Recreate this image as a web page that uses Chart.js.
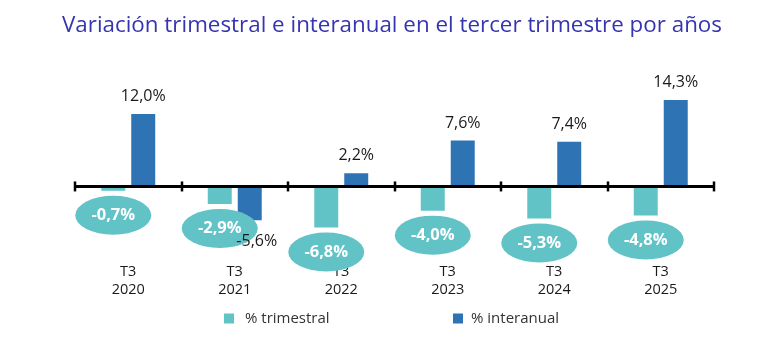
<!DOCTYPE html>
<html><head><meta charset="utf-8">
<script src="https://cdn.jsdelivr.net/npm/chart.js@4/dist/chart.umd.min.js"></script>
<style>html,body{margin:0;padding:0;background:#fff}#wrap{width:771px;height:357px}</style>
</head><body><div id="wrap"><canvas id="c" width="771" height="357"></canvas></div>
<script>
const titleText = 'Variación trimestral e interanual en el tercer trimestre por años';
const categories = [['T3','2020'],['T3','2021'],['T3','2022'],['T3','2023'],['T3','2024'],['T3','2025']];
const trimestral = [-0.7, -2.9, -6.8, -4.0, -5.3, -4.8];
const interanual = [12.0, -5.6, 2.2, 7.6, 7.4, 14.3];
const seriesNames = ['% trimestral', '% interanual'];
const TEAL = '#62C3C7', BLUE = '#2E74B5';
const FONT = "'Open Sans', sans-serif";
const fmt = v => v.toFixed(1).replace('.', ',') + '%';

const overlay = {
  id: 'overlay',
  afterDatasetsDraw(chart) {
    const ctx = chart.ctx, ca = chart.chartArea, y = chart.scales.y;
    const y0 = y.getPixelForValue(0);
    ctx.save();
    // title
    ctx.fillStyle = '#3535B0'; ctx.font = "22.5px " + FONT;
    ctx.textAlign = 'center'; ctx.textBaseline = 'middle';
    ctx.fillText(titleText, 392, 26, 660);
    // zero axis with boundary ticks
    ctx.strokeStyle = '#000'; ctx.lineWidth = 3;
    ctx.beginPath(); ctx.moveTo(ca.left, y0); ctx.lineTo(ca.right, y0); ctx.stroke();
    const n = categories.length, w = (ca.right - ca.left) / n;
    ctx.lineWidth = 2.5;
    for (let i = 0; i <= n; i++) {
      const x = Math.round(ca.left + i * w);
      ctx.beginPath(); ctx.moveTo(x, y0 - 5); ctx.lineTo(x, y0 + 5); ctx.stroke();
    }
    // ellipses for trimestral
    const m0 = chart.getDatasetMeta(0);
    m0.data.forEach((el, i) => {
      const cy = el.y + 24.5;
      ctx.fillStyle = TEAL;
      ctx.beginPath(); ctx.ellipse(el.x, cy, 38, 19.5, 0, 0, Math.PI * 2); ctx.fill();
      ctx.fillStyle = '#fff'; ctx.font = "bold 16.5px " + FONT;
      ctx.textAlign = 'center'; ctx.textBaseline = 'middle';
      ctx.fillText(fmt(trimestral[i]), el.x, cy);
    });
    // labels for interanual
    const m1 = chart.getDatasetMeta(1);
    m1.data.forEach((el, i) => {
      const v = interanual[i];
      ctx.fillStyle = '#1a1a1a'; ctx.font = "16px " + FONT;
      ctx.textAlign = 'center'; ctx.textBaseline = 'middle';
      if (v >= 0) ctx.fillText(fmt(v), el.x, el.y - 17.5);
      else ctx.fillText(fmt(v), el.x + 7, el.y + 21.5);
    });
    // legend
    const items = [{c: TEAL, t: seriesNames[0], x: 224, g: 21}, {c: BLUE, t: seriesNames[1], x: 453, g: 18}];
    ctx.font = "15px " + FONT; ctx.textAlign = 'left'; ctx.textBaseline = 'middle';
    items.forEach(it => {
      ctx.fillStyle = it.c; ctx.fillRect(it.x, 313.5, 10, 10);
      ctx.fillStyle = '#333'; ctx.fillText(it.t, it.x + it.g, 318.5);
    });
    ctx.restore();
  }
};

new Chart(document.getElementById('c'), {
  type: 'bar',
  data: {
    labels: categories,
    datasets: [
      {label: seriesNames[0], data: trimestral, backgroundColor: TEAL, categoryPercentage: 0.563, barPercentage: 0.8},
      {label: seriesNames[1], data: interanual, backgroundColor: BLUE, categoryPercentage: 0.563, barPercentage: 0.8}
    ]
  },
  options: {
    responsive: false, animation: false, devicePixelRatio: 1,
    layout: {padding: {left: 75, right: 57, top: 89.7, bottom: 0}},
    plugins: {
      legend: {display: false},
      tooltip: {enabled: false},
      title: {display: false}
    },
    scales: {
      x: {
        grid: {display: false, drawTicks: false}, border: {display: false},
        ticks: {color: '#1a1a1a', font: {family: FONT, size: 14.5, lineHeight: 1.3}, padding: 3, maxRotation: 0},
        afterFit: s => { s.height = 98; }
      },
      y: {display: false, min: -12, max: 16}
    }
  },
  plugins: [overlay]
});
</script></body></html>
